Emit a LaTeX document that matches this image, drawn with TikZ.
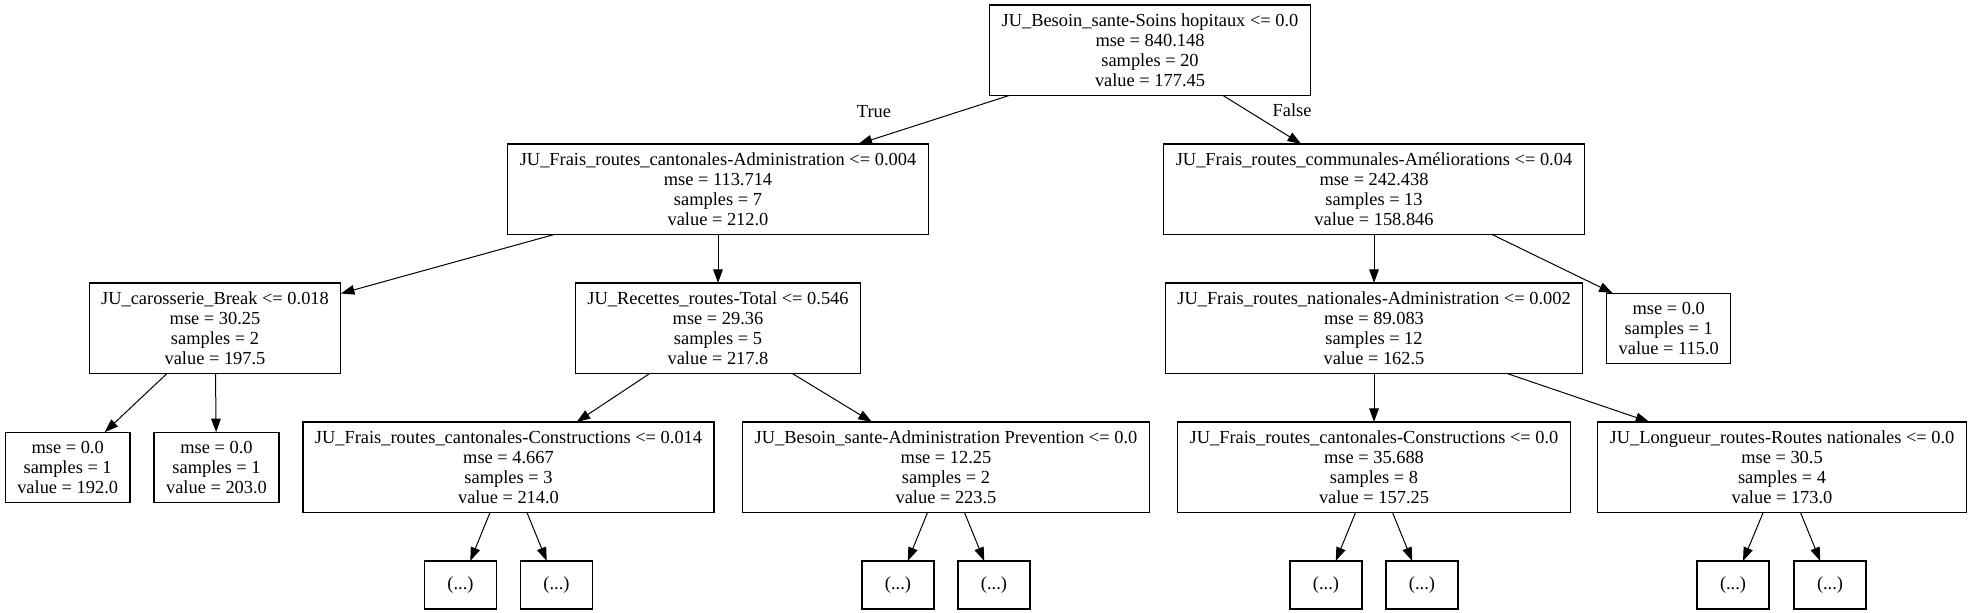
\documentclass[tikz,border=0pt]{standalone}
\usepackage{fontspec}
\setmainfont{Liberation Serif}
\usetikzlibrary{arrows.meta, positioning}

\begin{document}
\begin{tikzpicture}[
            node distance=24.25pt and 12pt,
            box/.style={draw, line width=0.6pt, font=\fontsize{9.2pt}{10pt}\selectfont, outer sep=0pt,
                        align=center, inner xsep=6pt, inner ysep=2pt, minimum height=45.25pt},
            leaf/.style={box, minimum height=35pt},
            more/.style={box, minimum width=36pt, minimum height=24pt},
            lbl/.style={font=\fontsize{9.2pt}{10pt}\selectfont, inner sep=0pt},
            arr/.style={-{Triangle[length=6.8pt, width=4.8pt]}, line width=0.5pt}
          ]
          \useasboundingbox (0,0) rectangle (986.5pt,-306.5pt);
          \node[box] (root) at (575pt,-25.1pt) {JU\_Besoin\_sante-Soins hopitaux <= 0.0\\mse = 840.148\\samples = 20\\value = 177.45};
          \node[box] (cantadm) [below=of root, xshift=-216pt] {JU\_Frais\_routes\_cantonales-Administration <= 0.004\\mse = 113.714\\samples = 7\\value = 212.0};
          \node[box] (commame) [below=of root, xshift=112pt] {JU\_Frais\_routes\_communales-Améliorations <= 0.04\\mse = 242.438\\samples = 13\\value = 158.846};
          \node[box] (caros) [below=of cantadm, xshift=-251.5pt] {JU\_carosserie\_Break <= 0.018\\mse = 30.25\\samples = 2\\value = 197.5};
          \node[box] (recettes) [below=of cantadm] {JU\_Recettes\_routes-Total <= 0.546\\mse = 29.36\\samples = 5\\value = 217.8};
          \node[box] (natadm) [below=of commame] {JU\_Frais\_routes\_nationales-Administration <= 0.002\\mse = 89.083\\samples = 12\\value = 162.5};
          \node[leaf] (leafa) [right=of natadm] {mse = 0.0\\samples = 1\\value = 115.0};
          \node[box] (cantcon) [below=of recettes, xshift=-104.75pt] {JU\_Frais\_routes\_cantonales-Constructions <= 0.014\\mse = 4.667\\samples = 3\\value = 214.0};
          \node[box] (santeadm) [below=of recettes, xshift=114pt] {JU\_Besoin\_sante-Administration Prevention <= 0.0\\mse = 12.25\\samples = 2\\value = 223.5};
          \node[leaf] (leafc) [left=of cantcon] {mse = 0.0\\samples = 1\\value = 203.0};
          \node[leaf] (leafb) [left=of leafc] {mse = 0.0\\samples = 1\\value = 192.0};
          \node[box] (cantcontwo) [below=of natadm] {JU\_Frais\_routes\_cantonales-Constructions <= 0.0\\mse = 35.688\\samples = 8\\value = 157.25};
          \node[box] (longueur) [below=of natadm, xshift=204pt] {JU\_Longueur\_routes-Routes nationales <= 0.0\\mse = 30.5\\samples = 4\\value = 173.0};
          \node[more] (morea) [below=of cantcon, xshift=-24pt] {(...)};
          \node[more] (moreb) [below=of cantcon, xshift=24pt] {(...)};
          \node[more] (morec) [below=of santeadm, xshift=-24pt] {(...)};
          \node[more] (mored) [below=of santeadm, xshift=24pt] {(...)};
          \node[more] (moree) [below=of cantcontwo, xshift=-24pt] {(...)};
          \node[more] (moref) [below=of cantcontwo, xshift=24pt] {(...)};
          \node[more] (moreg) [below=of longueur, xshift=-24.5pt] {(...)};
          \node[more] (moreh) [below=of longueur, xshift=24pt] {(...)};
          \node[lbl] (truelbl) at ([xshift=78pt, yshift=16pt]cantadm.north) {True};
          \node[lbl] (falselbl) at ([xshift=-41pt, yshift=17pt]commame.north) {False};
          \draw[arr] (root)--(cantadm);
          \draw[arr] (root)--(commame);
          \draw[arr] (cantadm)--(caros);
          \draw[arr] (cantadm)--(recettes);
          \draw[arr] (caros)--(leafb);
          \draw[arr] (caros)--(leafc);
          \draw[arr] (recettes)--(cantcon);
          \draw[arr] (recettes)--(santeadm);
          \draw[arr] (commame)--(natadm);
          \draw[arr] (commame.-21)--(leafa.148);
          \draw[arr] (natadm)--(cantcontwo);
          \draw[arr] (natadm)--(longueur);
          \draw[arr] (cantcon)--(morea);
          \draw[arr] (cantcon)--(moreb);
          \draw[arr] (santeadm)--(morec);
          \draw[arr] (santeadm)--(mored);
          \draw[arr] (cantcontwo)--(moree);
          \draw[arr] (cantcontwo)--(moref);
          \draw[arr] (longueur)--(moreg);
          \draw[arr] (longueur)--(moreh);
        \end{tikzpicture}
\end{document}
